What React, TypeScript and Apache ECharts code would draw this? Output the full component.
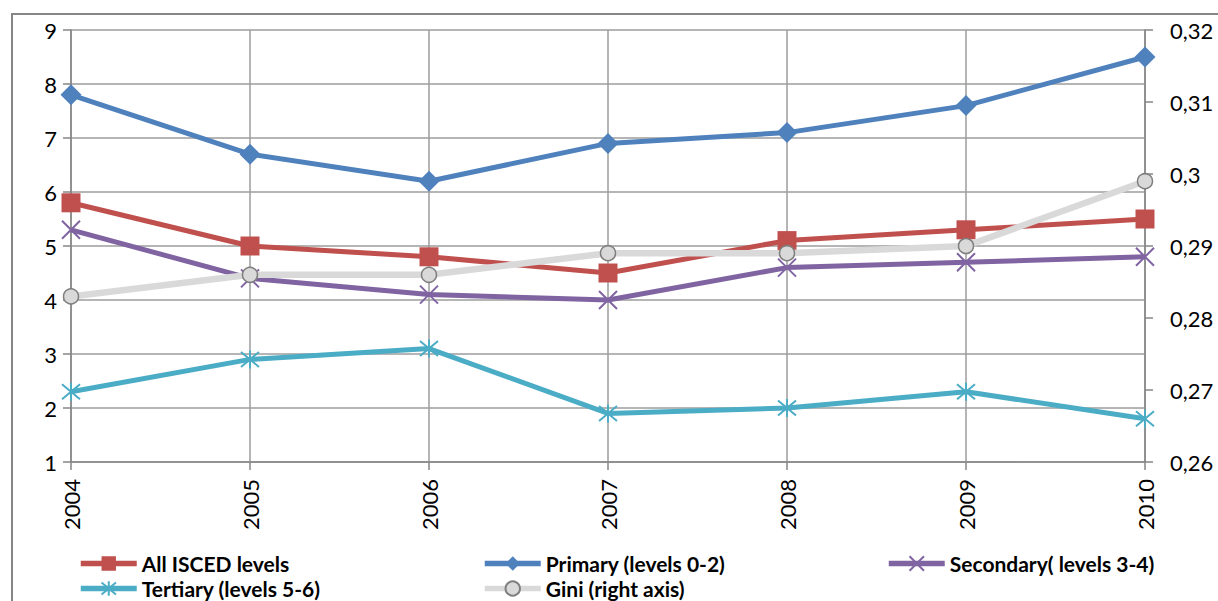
import React, { useEffect, useRef } from "react";
import * as echarts from "echarts";

const years = ["2004", "2005", "2006", "2007", "2008", "2009", "2010"];
const allIsced = [5.8, 5.0, 4.8, 4.5, 5.1, 5.3, 5.5];
const primary = [7.8, 6.7, 6.2, 6.9, 7.1, 7.6, 8.5];
const secondary = [5.3, 4.4, 4.1, 4.0, 4.6, 4.7, 4.8];
const tertiary = [2.3, 2.9, 3.1, 1.9, 2.0, 2.3, 1.8];
const gini = [0.283, 0.286, 0.286, 0.289, 0.289, 0.29, 0.299];

const names = [
  "All ISCED levels",
  "Primary (levels 0-2)",
  "Secondary( levels 3-4)",
  "Tertiary (levels 5-6)",
  "Gini (right axis)",
];

const FONT = "Lato, 'Open Sans', sans-serif";

export default function App() {
  const ref = useRef<HTMLDivElement>(null);
  useEffect(() => {
    if (!ref.current) return;
    const chart = echarts.init(ref.current, null, { renderer: "svg" });
    const gridColor = "#9c9c9c";
    const axisColor = "#868686";
    const legendBase = {
      orient: "horizontal",
      padding: 0,
      itemWidth: 56,
      itemHeight: 18,
      itemGap: 0,
      lineStyle: { width: 5.5 },
      textStyle: {
        fontFamily: FONT,
        fontWeight: "bold",
        fontSize: 21,
        lineHeight: 20,
        color: "#000",
      },
      selectedMode: false,
    };
    chart.setOption({
      animation: false,
      backgroundColor: "#fff",
      textStyle: { fontFamily: FONT },
      grid: { left: 71, right: 73, top: 30, bottom: 139, containLabel: false },
      graphic: [
        {
          type: "rect",
          shape: { x: 12, y: 14, width: 1300, height: 700 },
          style: { fill: "none", stroke: "#868686", lineWidth: 2 },
          silent: true,
        },
      ],
      legend: [
        { ...legendBase, data: [names[0]], left: 78, top: 553 },
        { ...legendBase, data: [names[1]], left: 482, top: 553 },
        { ...legendBase, data: [names[2]], left: 886, top: 553 },
        { ...legendBase, data: [names[3]], left: 78, top: 578 },
        { ...legendBase, data: [names[4]], left: 482, top: 578 },
      ],
      xAxis: {
        type: "category",
        data: years,
        boundaryGap: false,
        axisLine: { show: true, lineStyle: { color: axisColor, width: 1.5 } },
        axisTick: { show: true, inside: false, length: 8, lineStyle: { color: axisColor, width: 1.5 } },
        splitLine: { show: true, lineStyle: { color: gridColor, width: 1.5 } },
        axisLabel: {
          rotate: 90,
          margin: 17,
          fontSize: 22,
          fontFamily: FONT,
          color: "#000",
        },
      },
      yAxis: [
        {
          type: "value",
          min: 1,
          max: 9,
          interval: 1,
          axisLine: { show: true, lineStyle: { color: axisColor, width: 1.5 } },
          axisTick: { show: true, length: 8, lineStyle: { color: axisColor, width: 1.5 } },
          splitLine: { show: true, lineStyle: { color: gridColor, width: 1.5 } },
          axisLabel: { fontSize: 22, fontFamily: FONT, color: "#000", margin: 14 },
        },
        {
          type: "value",
          min: 0.26,
          max: 0.32,
          interval: 0.01,
          position: "right",
          axisLine: { show: true, lineStyle: { color: axisColor, width: 1.5 } },
          axisTick: { show: true, length: 8, lineStyle: { color: axisColor, width: 1.5 } },
          splitLine: { show: false },
          axisLabel: {
            fontSize: 22,
            fontFamily: FONT,
            color: "#000",
            margin: 25,
            formatter: (v: number) => String(Math.round(v * 100) / 100).replace(".", ","),
          },
        },
      ],
      series: [
        {
          name: names[0],
          type: "line",
          data: allIsced,
          symbol: "rect",
          symbolSize: 19,
          lineStyle: { color: "#C0504D", width: 5 },
          itemStyle: { color: "#C0504D" },
          z: 3,
        },
        {
          name: names[1],
          type: "line",
          data: primary,
          symbol: "diamond",
          symbolSize: 21,
          lineStyle: { color: "#4F81BD", width: 5 },
          itemStyle: { color: "#4F81BD" },
          z: 3,
        },
        {
          name: names[2],
          type: "line",
          data: secondary,
          symbol: "path://M0,0L10,10M10,0L0,10",
          symbolSize: 18,
          lineStyle: { color: "#8064A2", width: 5 },
          itemStyle: { color: "#8064A2", borderColor: "#8064A2", borderWidth: 2 },
          z: 3,
        },
        {
          name: names[3],
          type: "line",
          data: tertiary,
          symbol: "path://M0,0L10,10M10,0L0,10M5,-1L5,11",
          symbolSize: 18,
          lineStyle: { color: "#4BACC6", width: 5 },
          itemStyle: { color: "#4BACC6", borderColor: "#4BACC6", borderWidth: 2 },
          z: 3,
        },
        {
          name: names[4],
          type: "line",
          yAxisIndex: 1,
          data: gini,
          symbol: "circle",
          symbolSize: 15,
          lineStyle: { color: "#D9D9D9", width: 6.5 },
          itemStyle: { color: "#D9D9D9", borderColor: "#7F7F7F", borderWidth: 1.5 },
          z: 4,
        },
      ],
    });
    return () => chart.dispose();
  }, []);
  return (
    <div
      ref={ref}
      style={{ position: "fixed", left: 0, top: 0, width: 1218, height: 601 }}
    />
  );
}
